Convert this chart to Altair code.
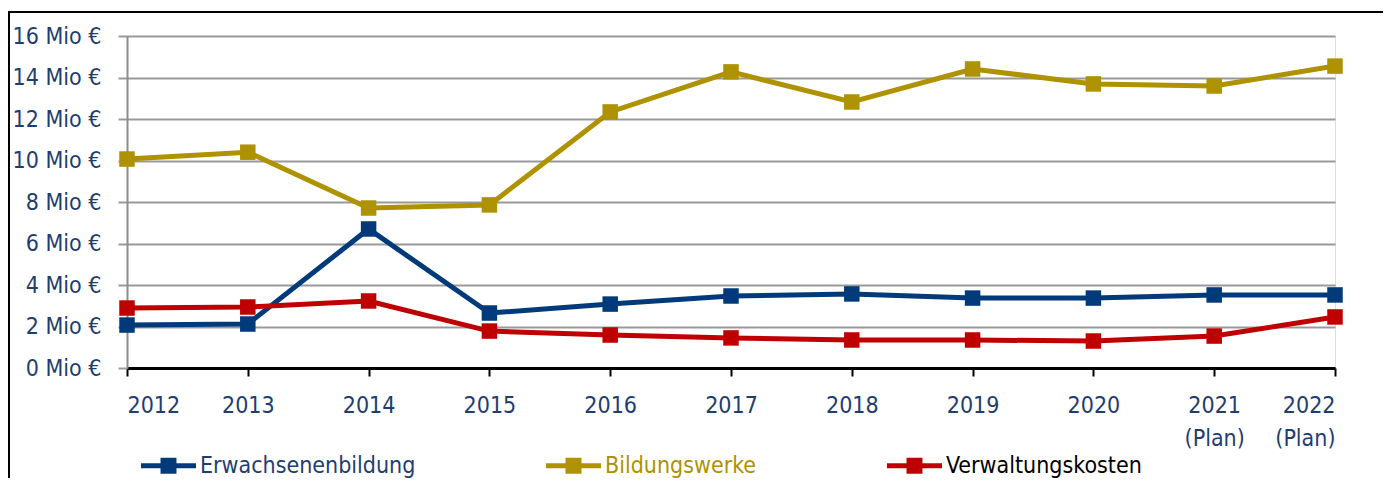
import altair as alt
import pandas as pd

years = [2012, 2013, 2014, 2015, 2016, 2017, 2018, 2019, 2020, 2021, 2022]
series_names = ["Erwachsenenbildung", "Bildungswerke", "Verwaltungskosten"]
erwachsenenbildung = [2.07, 2.12, 6.70, 2.65, 3.08, 3.47, 3.57, 3.37, 3.37, 3.52, 3.52]
bildungswerke = [10.07, 10.40, 7.71, 7.86, 12.34, 14.27, 12.82, 14.41, 13.69, 13.59, 14.55]
verwaltungskosten = [2.89, 2.94, 3.23, 1.78, 1.59, 1.45, 1.35, 1.35, 1.30, 1.54, 2.46]
y_ticks = [0, 2, 4, 6, 8, 10, 12, 14, 16]
colors = ["#003A7A", "#AE9200", "#C00000"]
label_colors = ["#1F3D6E", "#AE9200", "#000000"]

rows = []
for name, vals in zip(series_names, [erwachsenenbildung, bildungswerke, verwaltungskosten]):
    for yr, v in zip(years, vals):
        rows.append({"Jahr": yr, "Wert": v, "Serie": name})
df = pd.DataFrame(rows)

FONT = "DejaVu Sans Condensed"
TXT = "#1F3D6E"
FS = 23

color_scale = alt.Scale(domain=series_names, range=colors)
x_enc = alt.X("Jahr:Q", scale=alt.Scale(domain=[2012, 2022], nice=False, zero=False),
              axis=alt.Axis(values=years, format="d", title=None, grid=False,
                            domainColor="#000000", domainWidth=3,
                            tickColor="#000000", tickWidth=2, tickSize=8,
                            labelFontSize=FS, labelColor=TXT, labelFont=FONT,
                            labelPadding=18, labelLineHeight=33,
                            labelExpr="datum.value >= 2021 ? [datum.label, '(Plan)'] : datum.label"))
y_enc = alt.Y("Wert:Q", scale=alt.Scale(domain=[0, 16], nice=False),
              axis=alt.Axis(values=y_ticks, title=None, grid=True, gridColor="#999999", gridWidth=2,
                            domainColor="#8c8c8c", domainWidth=2,
                            tickColor="#999999", tickWidth=2, tickSize=9,
                            labelFontSize=FS, labelColor=TXT, labelFont=FONT, labelPadding=17,
                            labelExpr="datum.value + ' Mio €'"))

label_expr = ("datum.label == 'Erwachsenenbildung' ? '%s' : (datum.label == 'Bildungswerke' ? '%s' : '%s')"
              % tuple(label_colors))
legend = alt.Legend(title=None, orient="none", legendX=14, legendY=402,
                    direction="horizontal", columns=3, columnPadding=130,
                    symbolType="M-1,-0.09L1,-0.09L1,0.09L-1,0.09Z M-0.29,-0.29L0.29,-0.29L0.29,0.29L-0.29,0.29Z",
                    symbolSize=3025, symbolStrokeWidth=0, symbolOpacity=1,
                    labelFontSize=FS, labelFont=FONT, labelOffset=4,
                    labelColor=alt.ExprRef(label_expr),
                    padding=0, labelLimit=400)
color_enc = alt.Color("Serie:N", scale=color_scale, legend=legend)

base = alt.Chart(df)
points = base.mark_point(shape="square", filled=True, size=240, opacity=1, strokeWidth=0).encode(
    x=x_enc, y=y_enc, color=color_enc,
)
lines = base.mark_line(strokeWidth=5).encode(
    x=x_enc, y=y_enc, color=color_enc, detail="Serie:N",
)

frame = alt.Chart(pd.DataFrame({"a": [0]})).mark_rect(fill=None, stroke="#000000", strokeWidth=2).encode(
    x=alt.value(-118), x2=alt.value(1259), y=alt.value(-24), y2=alt.value(470)
)

chart = alt.layer(frame, lines, points).properties(
    width=1208, height=332,
    autosize=alt.AutoSizeParams(type="none"),
    padding={"left": 119, "top": 28, "right": 48, "bottom": 110},
).configure_view(stroke=None).configure(background="#ffffff")

chart.save("out.html", embed_options={"renderer": "svg", "actions": False})
